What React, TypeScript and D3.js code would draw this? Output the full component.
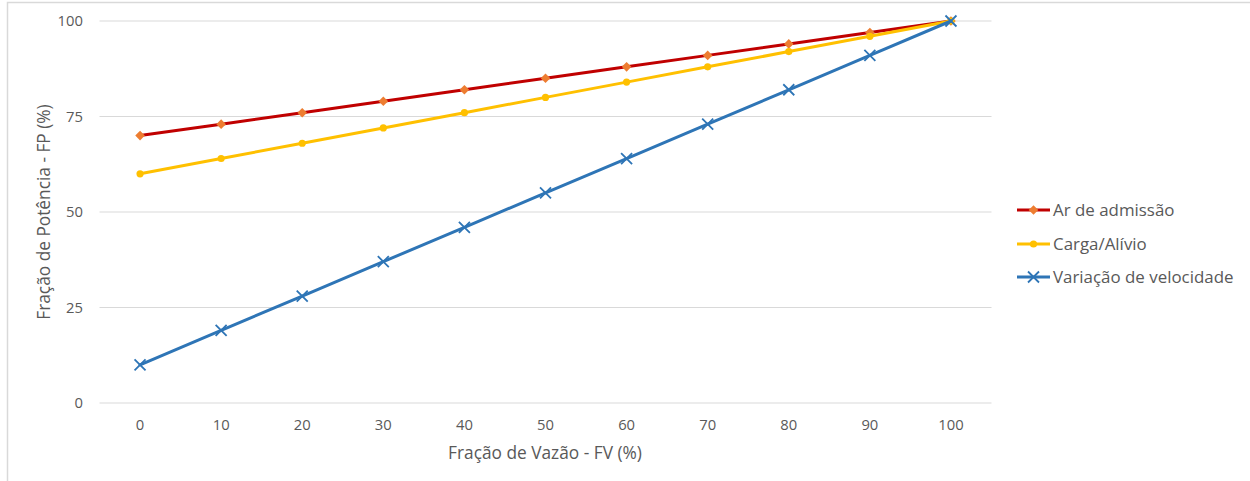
import React from "react";
import * as d3 from "d3";

const categories = [0, 10, 20, 30, 40, 50, 60, 70, 80, 90, 100];
const arAdmissao = [70, 73, 76, 79, 82, 85, 88, 91, 94, 97, 100];
const cargaAlivio = [60, 64, 68, 72, 76, 80, 84, 88, 92, 96, 100];
const variacaoVelocidade = [10, 19, 28, 37, 46, 55, 64, 73, 82, 91, 100];
const yTicks = [0, 25, 50, 75, 100];
const seriesNames = ["Ar de admissão", "Carga/Alívio", "Variação de velocidade"];
const xTitle = "Fração de Vazão - FV (%)";
const yTitle = "Fração de Potência - FP (%)";

const W = 1250;
const H = 481;
const plot = { left: 99.5, right: 991.5, top: 21, bottom: 403 };
const FONT = "'Open Sans', 'Noto Sans', sans-serif";
const TXT = "#595959";

const series = [
  { name: seriesNames[0], values: arAdmissao, line: "#C00000", marker: "diamond", fill: "#ED7D31" },
  { name: seriesNames[1], values: cargaAlivio, line: "#FFC000", marker: "circle", fill: "#FFC000" },
  { name: seriesNames[2], values: variacaoVelocidade, line: "#2E75B6", marker: "x", fill: "#2E75B6" },
];

function Marker({ type, x, y, color }: { type: string; x: number; y: number; color: string }) {
  if (type === "diamond") {
    const s = 4.8;
    return <path d={`M${x},${y - s}L${x + s},${y}L${x},${y + s}L${x - s},${y}Z`} fill={color} />;
  }
  if (type === "circle") {
    return <circle cx={x} cy={y} r={3.6} fill={color} />;
  }
  const s = 5.5;
  return (
    <path
      d={`M${x - s},${y - s}L${x + s},${y + s}M${x - s},${y + s}L${x + s},${y - s}`}
      stroke={color}
      strokeWidth={1.8}
      fill="none"
    />
  );
}

export default function App() {
  const x = d3
    .scaleBand<number>()
    .domain(categories)
    .range([plot.left, plot.right]);
  const cx = (v: number) => (x(v) as number) + x.bandwidth() / 2;
  const y = d3.scaleLinear().domain([0, 100]).range([plot.bottom, plot.top]);
  const line = d3
    .line<number>()
    .x((_, i) => cx(categories[i]))
    .y((d) => y(d));

  const legendY = [210, 244, 277];

  return (
    <svg
      width={W}
      height={H}
      style={{ position: "absolute", left: 0, top: 0, background: "#fff" }}
      fontFamily={FONT}
    >
      <rect x={0} y={0} width={W} height={H} fill="#fff" />
      {/* chart frame */}
      <path d={`M7.5,${H}V2.5H${W}`} fill="none" stroke="#D9D9D9" strokeWidth={1.5} />
      {/* gridlines */}
      {yTicks.map((t) => (
        <line key={t} x1={plot.left} x2={plot.right} y1={y(t)} y2={y(t)} stroke="#D9D9D9" strokeWidth={1} />
      ))}
      {/* y tick labels */}
      {yTicks.map((t) => (
        <text key={t} x={83} y={y(t)} dy="0.35em" textAnchor="end" fontSize={14.8} fill={TXT}>
          {t}
        </text>
      ))}
      {/* x tick labels */}
      {categories.map((c) => (
        <text key={c} x={cx(c)} y={425} dy="0.35em" textAnchor="middle" fontSize={14.8} fill={TXT}>
          {c}
        </text>
      ))}
      {/* axis titles */}
      <text x={545} y={453} dy="0.35em" textAnchor="middle" fontSize={17.3} fill={TXT}>
        {xTitle}
      </text>
      <text
        transform={`translate(44,212) rotate(-90)`}
        dy="0.35em"
        textAnchor="middle"
        fontSize={17.3}
        fill={TXT}
      >
        {yTitle}
      </text>
      {/* series */}
      {series.map((s) => (
        <g key={s.name}>
          <path d={line(s.values) || ""} fill="none" stroke={s.line} strokeWidth={3} strokeLinejoin="round" strokeLinecap="round" />
          {s.values.map((v, i) => (
            <Marker key={i} type={s.marker} x={cx(categories[i])} y={y(v)} color={s.fill} />
          ))}
        </g>
      ))}
      {/* legend */}
      {series.map((s, i) => (
        <g key={s.name}>
          <line x1={1017} x2={1050} y1={legendY[i]} y2={legendY[i]} stroke={s.line} strokeWidth={3} />
          <Marker type={s.marker} x={1033.5} y={legendY[i]} color={s.fill} />
          <text x={1053} y={legendY[i]} dy="0.35em" fontSize={16.9} fill={TXT}>
            {s.name}
          </text>
        </g>
      ))}
    </svg>
  );
}
